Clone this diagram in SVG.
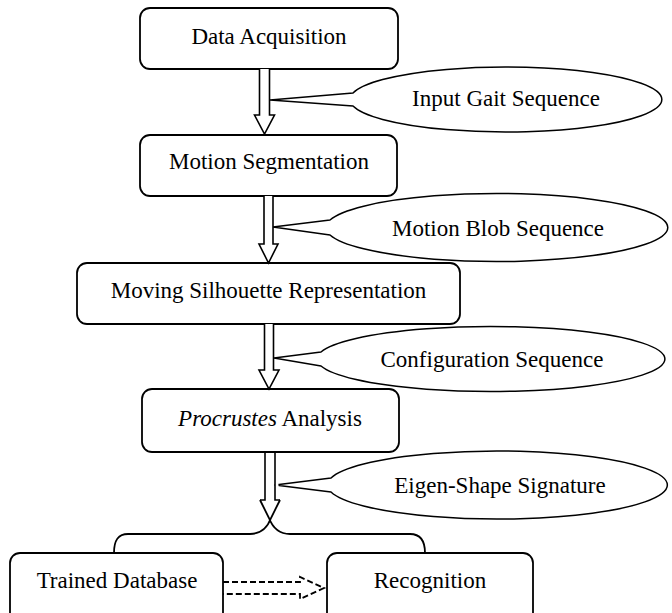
<svg xmlns="http://www.w3.org/2000/svg" width="672" height="613" viewBox="0 0 672 613" font-family="'Liberation Serif', 'Times New Roman', serif">
<style>
.box{fill:#fff;stroke:#000;stroke-width:1.8}
.call{fill:#fff;stroke:#000;stroke-width:1.5;stroke-linejoin:round}
.arr{fill:#fff;stroke:#000;stroke-width:1.6;stroke-linejoin:miter}
.ln{fill:none;stroke:#000;stroke-width:1.8}
.dash{fill:none;stroke:#000;stroke-width:1.8;stroke-dasharray:6,3}
text{font-family:'Liberation Serif','Times New Roman',serif;font-size:23px;fill:#000;text-anchor:middle}
</style>
<rect width="672" height="613" fill="#fff"/>
<g id="n-data-acquisition"><rect class="box" x="140" y="8" width="258" height="61" rx="10"/><text x="269" y="44">Data Acquisition</text></g>
<g id="n-motion-segmentation"><rect class="box" x="140" y="135" width="257" height="61" rx="10"/><text x="269" y="169">Motion Segmentation</text></g>
<g id="n-moving-silhouette"><rect class="box" x="77" y="263" width="383" height="61" rx="10"/><text x="268.5" y="298">Moving Silhouette Representation</text></g>
<g id="n-procrustes"><rect class="box" x="142" y="389" width="257" height="63" rx="10"/><text x="270" y="426"><tspan font-style="italic">Procrustes</tspan> Analysis</text></g>
<g id="n-trained-database"><rect class="box" x="10" y="553" width="213" height="70" rx="10"/><text x="117" y="588">Trained Database</text></g>
<g id="n-recognition"><rect class="box" x="327" y="553" width="206" height="70" rx="10"/><text x="430" y="588">Recognition</text></g>
<g id="n-input-gait"><path class="call" d="M270,100 L353,93 A156,32.5 0 1 1 353,106 Z"/><text x="506" y="106">Input Gait Sequence</text></g>
<g id="n-motion-blob"><path class="call" d="M273,227 L330,220 A171,34 0 1 1 330,235 Z"/><text x="498" y="236">Motion Blob Sequence</text></g>
<g id="n-configuration"><path class="call" d="M274,358 L321,352 A174,32.5 0 1 1 321,366 Z"/><text x="492" y="367">Configuration Sequence</text></g>
<g id="n-eigen-shape"><path class="call" d="M275,485 L331,478 A170,34 0 1 1 331,492 Z"/><text x="500" y="493">Eigen-Shape Signature</text></g>
<g id="connectors">
<path class="arr" d="M259.5,69 V115 H254.5 L264.5,134 L274.5,115 H269.5 V69"/>
<path class="arr" d="M264,196 V244 H259 L268.5,263 L278,244 H273 V196"/>
<path class="arr" d="M264.5,324 V370 H259 L269,389 L279,370 H273.5 V324"/>
<path class="arr" d="M265,452 V500 H260 M275,452 V500 H280"/>
<path class="ln" d="M280,500 L271,518 C268,526 262,534 250,534 L128,534 C118,534 114,540 114,553"/>
<path class="ln" d="M260,500 L269,518 C272,526 278,534 290,534 L410,534 C420,534 425,540 425,553"/>
<path class="dash" d="M223,582 L300,582 L300,577 L324,588 L300,599 L300,594 L223,594"/>
</g>
</svg>
